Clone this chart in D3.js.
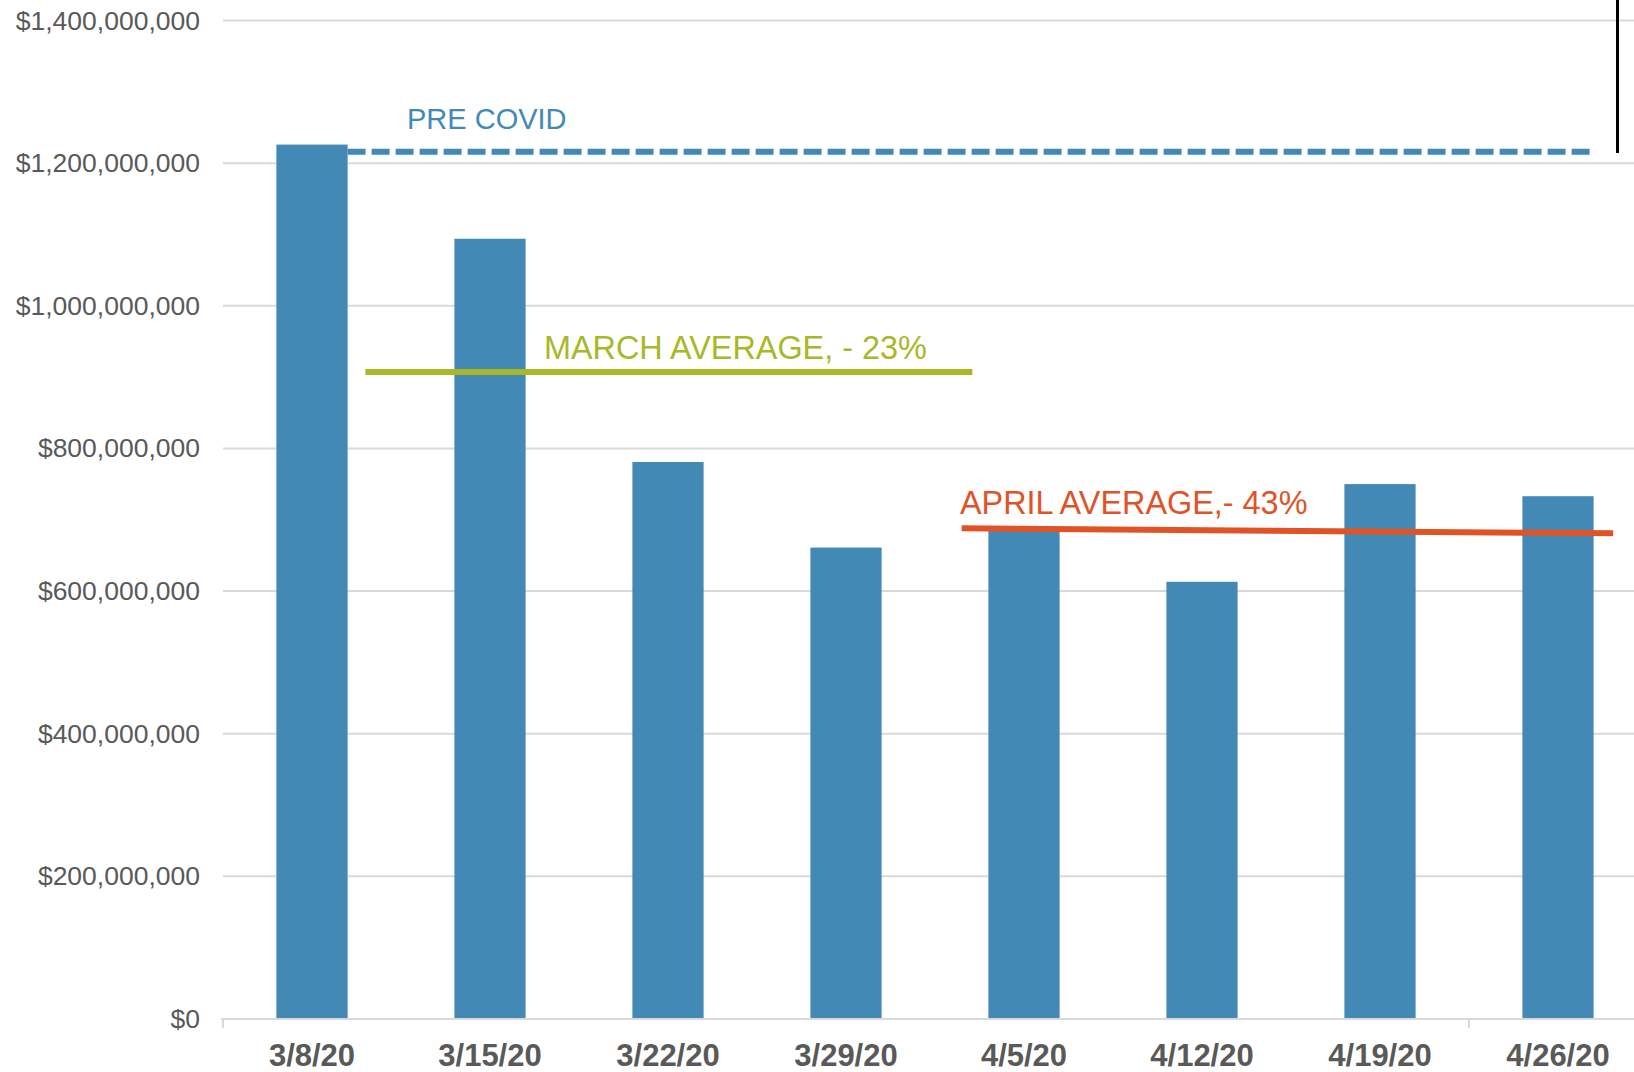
<!DOCTYPE html>
<html>
<head>
<meta charset="utf-8">
<script src="https://cdn.jsdelivr.net/npm/d3@7"></script>
<style>
  html, body { margin: 0; padding: 0; background: #ffffff; overflow: hidden; }
  svg { display: block; }
</style>
</head>
<body>
<svg id="chart" width="1634" height="1072"></svg>
<script>
// ---- data ----
const categories = ["3/8/20", "3/15/20", "3/22/20", "3/29/20", "4/5/20", "4/12/20", "4/19/20", "4/26/20"];
const values = [1226000000, 1094000000, 781000000, 661000000, 688000000, 613000000, 750000000, 733000000];
const yTicks = [0, 200000000, 400000000, 600000000, 800000000, 1000000000, 1200000000, 1400000000];

// reference lines: positions along the week axis (in category units) and values
const preCovidValue = 1216000000;
const marchAvg = { label: "MARCH AVERAGE, - 23%", x: [0.80, 4.21], y: [907000000, 907000000] };
const aprilAvg = { label: "APRIL AVERAGE,- 43%", x: [4.15, 7.81], y: [688000000, 681000000] };
const axisTickCats = [0, 7];

// ---- layout ----
const W = 1634, H = 1072;
const left = 223, step = 178;
const right = left + step * categories.length;
const yBottom = 1019, yTop = 20.5;

const svg = d3.select("#chart");
const FONT = "'Liberation Sans', Arial, Helvetica, sans-serif";

const x = d3.scaleBand().domain(categories).range([left, right]).paddingInner(0.6).paddingOuter(0.3);
const xi = d3.scaleLinear().domain([0, categories.length]).range([left, right]);
const y = d3.scaleLinear().domain([0, 1400000000]).range([yBottom, yTop]);

// gridlines
svg.append("g").selectAll("line").data(yTicks.filter(d => d > 0)).join("line")
  .attr("x1", left).attr("x2", W)
  .attr("y1", d => y(d)).attr("y2", d => y(d))
  .attr("stroke", "#d9d9d9").attr("stroke-width", 2);

// y labels
const fmt = d => "$" + d3.format(",")(d);
svg.append("g").selectAll("text").data(yTicks).join("text")
  .attr("x", 200).attr("y", d => y(d))
  .attr("text-anchor", "end").attr("dominant-baseline", "central")
  .attr("font-family", FONT).attr("font-size", 26.5).attr("fill", "#595959")
  .text(fmt);

// bars
svg.append("g").selectAll("rect").data(values).join("rect")
  .attr("x", (d, i) => x(categories[i]))
  .attr("width", x.bandwidth())
  .attr("y", d => y(d))
  .attr("height", d => yBottom - y(d))
  .attr("fill", "#4289b5");

// x axis line and ticks
svg.append("line").attr("x1", left - 2).attr("x2", W).attr("y1", yBottom).attr("y2", yBottom)
  .attr("stroke", "#d9d9d9").attr("stroke-width", 2);
svg.append("g").selectAll("line").data(axisTickCats).join("line")
  .attr("x1", d => xi(d)).attr("x2", d => xi(d))
  .attr("y1", yBottom).attr("y2", yBottom + 9)
  .attr("stroke", "#d9d9d9").attr("stroke-width", 2);

// x labels
svg.append("g").selectAll("text").data(categories).join("text")
  .attr("x", d => x(d) + x.bandwidth() / 2).attr("y", 1066)
  .attr("text-anchor", "middle")
  .attr("font-family", FONT).attr("font-weight", "bold").attr("font-size", 31).attr("fill", "#595959")
  .text(d => d);

// pre covid dashed line
svg.append("line")
  .attr("x1", x(categories[0]) + x.bandwidth())
  .attr("x2", x(categories[categories.length - 1]) + x.bandwidth())
  .attr("y1", y(preCovidValue)).attr("y2", y(preCovidValue))
  .attr("stroke", "#428ab5").attr("stroke-width", 6).attr("stroke-dasharray", "18,6");
svg.append("text").attr("x", 407).attr("y", 129)
  .attr("font-family", FONT).attr("font-size", 29).attr("fill", "#428ab5")
  .text("PRE COVID");

// march average
svg.append("line")
  .attr("x1", xi(marchAvg.x[0])).attr("x2", xi(marchAvg.x[1]))
  .attr("y1", y(marchAvg.y[0])).attr("y2", y(marchAvg.y[1]))
  .attr("stroke", "#a8b927").attr("stroke-width", 6);
svg.append("text").attr("x", 544).attr("y", 359)
  .attr("font-family", FONT).attr("font-size", 32.4).attr("fill", "#a8b927")
  .text(marchAvg.label);

// april average
svg.append("line")
  .attr("x1", xi(aprilAvg.x[0])).attr("x2", xi(aprilAvg.x[1]))
  .attr("y1", y(aprilAvg.y[0])).attr("y2", y(aprilAvg.y[1]))
  .attr("stroke", "#e05326").attr("stroke-width", 6);
svg.append("text").attr("x", 960).attr("y", 514)
  .attr("font-family", FONT).attr("font-size", 32.4).attr("fill", "#e05326")
  .text(aprilAvg.label);

// black vertical line at top right
svg.append("line").attr("x1", 1617.5).attr("x2", 1617.5).attr("y1", 0).attr("y2", 153)
  .attr("stroke", "#000000").attr("stroke-width", 3);
</script>
</body>
</html>
